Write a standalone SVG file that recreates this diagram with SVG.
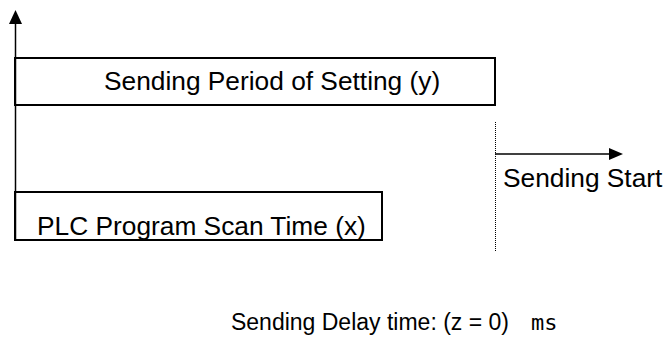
<svg xmlns="http://www.w3.org/2000/svg" width="664" height="338" viewBox="0 0 664 338">
<style>
.t{font-family:"Liberation Sans",Arial,sans-serif;font-size:26.3px;fill:#000}
.box{fill:none;stroke:#000;stroke-width:2}
.ln{stroke:#000;stroke-width:1.5;fill:none}
</style>
<rect width="664" height="338" fill="#fff"/>
<g id="connectors">
<line class="ln" x1="15.5" y1="240" x2="15.5" y2="22"/>
<polygon points="15.5,10 9,24 22,24" fill="#000"/>
<line x1="495.5" y1="122" x2="495.5" y2="252" stroke="#000" stroke-width="1" stroke-dasharray="1,1"/>
<line class="ln" x1="495" y1="154" x2="611" y2="154"/>
<polygon points="609,148 623,154 609,160" fill="#000"/>
</g>
<g id="period">
<rect class="box" x="15" y="58" width="480" height="47"/>
<text class="t" x="104" y="90">Sending Period of Setting (y)</text>
</g>
<g id="scan">
<rect class="box" x="15" y="192" width="367" height="48"/>
<text class="t" x="37" y="235">PLC Program Scan Time (x)</text>
</g>
<g id="start">
<text class="t" x="503" y="187">Sending Start</text>
</g>
<g id="delay">
<text class="t" x="509" y="330" text-anchor="end" style="font-size:23px">Sending Delay time: (z = 0)</text>
<text x="531" y="330" style="font-family:'DejaVu Sans Mono',monospace;font-size:22px">ms</text>
</g>
</svg>
